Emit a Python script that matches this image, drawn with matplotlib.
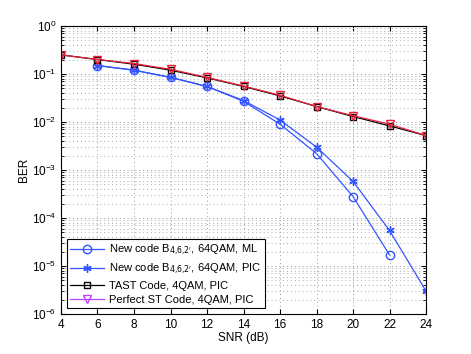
import numpy as np
import matplotlib
matplotlib.use('Agg')
import matplotlib.pyplot as plt

plt.rcParams['font.family'] = ['Liberation Sans', 'DejaVu Sans']
plt.rcParams['font.size'] = 8.5

# data
snr_blue = [6, 8, 10, 12, 14, 16, 18, 20, 22, 24]
ber_ml = [0.15, 0.12, 0.085, 0.055, 0.027, 0.009, 2.2e-3, 2.8e-4, 1.7e-5]
ber_pic = [0.15, 0.12, 0.085, 0.055, 0.028, 0.011, 3.0e-3, 5.8e-4, 5.5e-5, 3.0e-6]
snr_all = [4, 6, 8, 10, 12, 14, 16, 18, 20, 22, 24]
ber_tast = [0.25, 0.2, 0.16, 0.12, 0.083, 0.055, 0.035, 0.021, 0.013, 0.0083, 0.0052]
ber_perfect = [0.25, 0.2, 0.165, 0.125, 0.085, 0.056, 0.036, 0.021, 0.0135, 0.009, 0.0052]

blue = '#3355ff'
fig = plt.figure(figsize=(4.71, 3.54), dpi=100)
ax = fig.add_axes([0.1295, 0.113, 0.775, 0.8136])

ax.semilogy(snr_blue[:len(ber_ml)], ber_ml, '-o', color=blue, mfc='none', ms=6, lw=0.9,
            label="New code B$_{4{,}6{,}2'}$, 64QAM, ML")
ax.semilogy(snr_blue, ber_pic, '-', marker=(6, 2, 0), color=blue, ms=6, mew=1.0, lw=0.9,
            label="New code B$_{4{,}6{,}2'}$, 64QAM, PIC")
ax.semilogy(snr_all, ber_tast, '-s', color='black', mfc='none', ms=5, lw=0.9,
            label='TAST Code, 4QAM, PIC')
ax.semilogy(snr_all, ber_perfect, '-v', color='#e8203a', mfc='none', ms=6, lw=0.9,
            label='Perfect ST Code, 4QAM, PIC')

ax.set_xlim(4, 24)
ax.set_ylim(1e-6, 1)
ax.set_xticks(np.arange(4, 25, 2))
ax.yaxis.set_minor_formatter(plt.NullFormatter())
ax.grid(True, which='major', ls=(0, (1, 3)), color='#999999', lw=0.7)
ax.grid(True, which='minor', ls=(0, (1, 3)), color='#aaaaaa', lw=0.7)
ax.tick_params(which='both', direction='in', top=True, right=True)
ax.set_xlabel('SNR (dB)', labelpad=1)
ax.set_ylabel('BER', labelpad=1)

leg = ax.legend(loc='lower left', fancybox=False, edgecolor='black', framealpha=1,
                handlelength=3.0, borderaxespad=0.55, labelspacing=0.35, fontsize=8,
                borderpad=0.3, handletextpad=0.5)
leg.get_frame().set_linewidth(0.8)
leg.legend_handles[3].set_color('#c040ff')

fig.savefig('out.png', dpi=100)
